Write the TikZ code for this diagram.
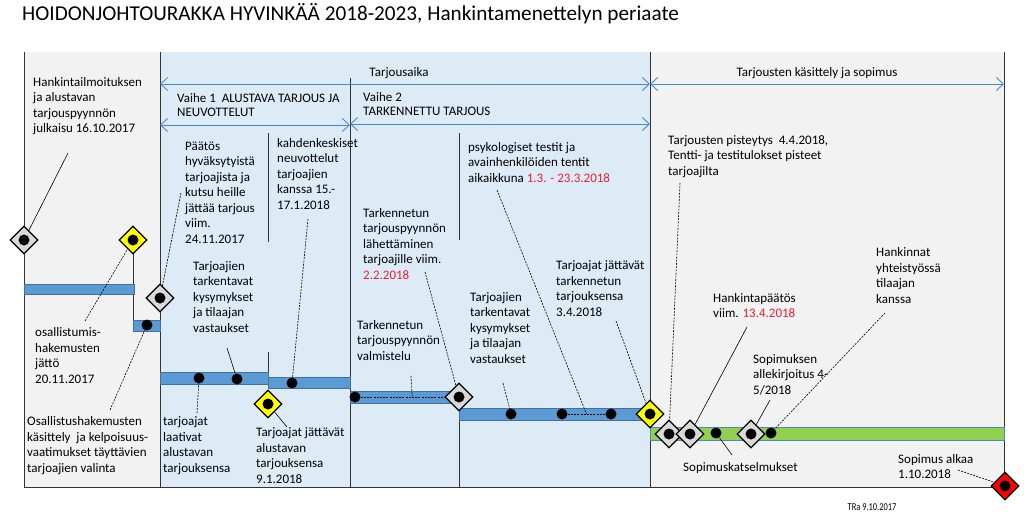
\documentclass[tikz,border=0pt]{standalone}
\usepackage{fontspec}
\setmainfont{Carlito}
\usetikzlibrary{shapes.geometric,arrows.meta,calc}

\definecolor{panelgray}{HTML}{F2F2F2}
\definecolor{panelblue}{HTML}{DDEBF7}
\definecolor{barblue}{HTML}{5B9BD5}
\definecolor{bardark}{HTML}{41719C}
\definecolor{bargreen}{HTML}{92D050}
\definecolor{arrowblue}{HTML}{4A89C8}
\definecolor{msgray}{HTML}{D9D9D9}
\definecolor{msyellow}{HTML}{FFFF00}
\definecolor{msred}{HTML}{FF0000}
\definecolor{datered}{HTML}{E8202F}

% base anchor of a multi-line node = baseline of its last line
\tikzset{
  txt/.style={anchor=base west, inner sep=0pt, align=left,
    font=\fontsize{13}{15.5}\selectfont},
  milestone/.style={diamond, draw=black, line width=1.3pt, fill=#1,
    minimum size=28pt, inner sep=0pt,
    path picture={\fill[black] (path picture bounding box.center) circle (5.5pt);}},
  evdot/.style={circle, fill=black, minimum size=11pt, inner sep=0pt},
  bar/.style={fill=barblue, draw=bardark, line width=0.8pt},
  periodarrow/.style={draw=arrowblue, line width=0.9pt,
    {Straight Barb[length=7pt,width=13pt]}-{Straight Barb[length=7pt,width=13pt]}},
  leader/.style={draw=black, line width=0.6pt},
  dleader/.style={leader, dash pattern=on 2pt off 1.2pt},
  divider/.style={draw=black!80, line width=0.9pt}
}
\newcommand{\reddate}[1]{\textcolor{datered}{#1}}

\begin{document}
\begin{tikzpicture}[x=1pt, y=-1pt]
  \useasboundingbox (0,0) rectangle (1024,519);

  % Title
  \node[anchor=base west, inner sep=0pt, font=\fontsize{21.2}{25}\selectfont] (title) at (22,21)
    {HOIDONJOHTOURAKKA HYVINKÄÄ 2018-2023, Hankintamenettelyn periaate};

  % Panels
  \fill[panelgray] (24,52) rectangle (160,487);
  \fill[panelblue] (160,52) rectangle (650,487);
  \fill[panelgray] (650,52) rectangle (1004,487);

  % Frame and dividers
  \draw[divider] (24,52) -- (24,487) -- (1004,487) -- (1004,52);
  \draw[divider] (160,52) -- (160,487);
  \draw[divider] (650,52) -- (650,487);
  \draw[divider] (350,78) -- (350,487);
  \draw[divider] (268,133) -- (268,242);
  \draw[divider] (268,352) -- (268,378);
  \draw[divider] (459,133) -- (459,240);
  \draw[divider] (459,397) -- (459,487);
  \draw[divider] (133,248) -- (133,320);

  % Period arrows
  \draw[periodarrow] (160,84) -- (650,84);
  \draw[periodarrow] (650,84) -- (1004,84);
  \draw[periodarrow] (160,125) -- (350,125);
  \draw[periodarrow] (350,124) -- (650,124);

  % Bars
  \path[bar] (24,284) rectangle (134,294);
  \path[bar] (133,320) rectangle (160,331);
  \path[bar] (160,372) rectangle (268,384);
  \path[bar] (268,377) rectangle (350,388);
  \path[bar] (350,391) rectangle (459,403);
  \path[bar] (459,408) rectangle (650,420);
  \filldraw[fill=bargreen, draw=arrowblue, line width=0.8pt] (650,427) rectangle (1004,440);

  % Milestones
  \node[milestone=msgray] (ms-publish) at (24,240) {};
  \node[milestone=msyellow] (ms-apply) at (133,240) {};
  \node[milestone=msgray] (ms-select) at (160,298) {};
  \node[milestone=msyellow] (ms-prelim) at (268,404) {};
  \node[milestone=msgray] (ms-refined) at (459,397) {};
  \node[milestone=msyellow] (ms-final) at (650,414) {};
  \node[milestone=msgray] (ms-score) at (669,434) {};
  \node[milestone=msgray] (ms-decision) at (690,434) {};
  \node[milestone=msgray] (ms-sign) at (751,434) {};
  \node[milestone=msred] (ms-start) at (1005,486) {};

  % Events
  \node[evdot] (d-sel) at (147,325) {};
  \node[evdot] (d-draft) at (199,378) {};
  \node[evdot] (d-qa1) at (237,379) {};
  \node[evdot] (d-talks) at (292,383) {};
  \node[evdot] (d-prep) at (355,397) {};
  \node[evdot] (d-qa2) at (511,414) {};
  \node[evdot] (d-test1) at (562,414) {};
  \node[evdot] (d-test2) at (611,414) {};
  \node[evdot] (d-review) at (716,433) {};
  \node[evdot] (d-coop) at (771,433) {};

  % Dashed spans inside bars
  \draw[dleader] (d-prep) -- (ms-refined);
  \draw[dleader] (d-test1) -- (d-test2);
  \coordinate (c-prep) at ($(d-prep)!0.55!(ms-refined)$);
  \coordinate (c-tests) at ($(d-test1)!0.5!(d-test2)$);

  % Texts
  \node[txt] (t-publish) at (33,132.5) {Hankintailmoituksen\\ja alustavan\\tarjouspyynnön\\julkaisu 16.10.2017};
  \node[txt, font=\fontsize{13}{14.5}\selectfont] (t-phase1) at (177,116.5) {Vaihe 1\ \ ALUSTAVA TARJOUS JA\\NEUVOTTELUT};
  \node[txt, font=\fontsize{13}{14.5}\selectfont] (t-phase2) at (363,115.5) {Vaihe 2\\TARKENNETTU TARJOUS};
  \node[txt, anchor=base] (t-period) at (399,76) {Tarjousaika};
  \node[txt, anchor=base] (t-handling) at (817,76) {Tarjousten käsittely ja sopimus};
  \node[txt] (t-select) at (185,243) {Päätös\\hyväksytyistä\\tarjoajista ja\\kutsu heille\\jättää tarjous\\viim.\\24.11.2017};
  \node[txt] (t-talks) at (277,209) {kahdenkeskiset\\neuvottelut\\tarjoajien\\kanssa 15.-\\17.1.2018};
  \node[txt] (t-qa1) at (193,332) {Tarjoajien\\tarkentavat\\kysymykset\\ja tilaajan\\vastaukset};
  \node[txt] (t-apply) at (35,383) {osallistumis-\\hakemusten\\jättö\\20.11.2017};
  \node[txt] (t-choose) at (27,472) {Osallistushakemusten\\käsittely\ \ ja kelpoisuus-\\vaatimukset täyttävien\\tarjoajien valinta};
  \node[txt] (t-draft) at (163,472) {tarjoajat\\laativat\\alustavan\\tarjouksensa};
  \node[txt] (t-prelim) at (256,483) {Tarjoajat jättävät\\alustavan\\tarjouksensa\\9.1.2018};
  \node[txt] (t-tests) at (468,182) {psykologiset testit ja\\avainhenkilöiden tentit\\aikaikkuna \reddate{1.3. - 23.3.2018}};
  \node[txt] (t-send) at (363,279) {Tarkennetun\\tarjouspyynnön\\lähettäminen\\tarjoajille viim.\\\reddate{2.2.2018}};
  \node[txt] (t-prep) at (357,360) {Tarkennetun\\tarjouspyynnön\\valmistelu};
  \node[txt] (t-qa2) at (470,363) {Tarjoajien\\tarkentavat\\kysymykset\\ja tilaajan\\vastaukset};
  \node[txt] (t-final) at (556,316) {Tarjoajat jättävät\\tarkennetun\\tarjouksensa\\3.4.2018};
  \node[txt] (t-score) at (668,175) {Tarjousten pisteytys\ \ 4.4.2018,\\Tentti- ja testitulokset pisteet\\tarjoajilta};
  \node[txt, font=\fontsize{13}{14.5}\selectfont] (t-decision) at (713,317) {Hankintapäätös\\viim. \reddate{13.4.2018}};
  \node[txt] (t-coop) at (876,303) {Hankinnat\\yhteistyössä\\tilaajan\\kanssa};
  \node[txt] (t-sign) at (753,394) {Sopimuksen\\allekirjoitus 4-\\5/2018};
  \node[txt] (t-review) at (683,471) {Sopimuskatselmukset};
  \node[txt, font=\fontsize{13}{14.5}\selectfont] (t-start) at (898,478) {Sopimus alkaa\\1.10.2018};
  \node[anchor=base, inner sep=0pt, font=\fontsize{10.5}{11}\selectfont\addfontfeature{FakeStretch=0.8}] (t-sign-off) at (872,510) {TRa 9.10.2017};

  % Leader ends at the texts
  \coordinate (c-publish) at (68,153);
  \coordinate (c-apply) at (85,321);
  \coordinate (c-choose) at (110,410);
  \coordinate (c-select) at (181,193);
  \coordinate (c-talks) at (308,219);
  \coordinate (c-qa1) at (227,348);
  \coordinate (c-draft) at (197,413);
  \coordinate (c-prelim) at (287,427);
  \coordinate (c-prepnote) at (411,376);
  \coordinate (c-send) at (425,272);
  \coordinate (c-testnote) at (497,190);
  \coordinate (c-qa2) at (503,383);
  \coordinate (c-final) at (616,321);
  \coordinate (c-score) at (680,183);
  \coordinate (c-decision) at (747,327);
  \coordinate (c-sign) at (770,400);
  \coordinate (c-coop) at (885,313);
  \coordinate (c-review) at (732,455);
  \coordinate (c-start) at (958,470);

  % Leaders
  \draw[leader] (c-publish) -- (ms-publish);
  \draw[dleader] (c-apply) -- (ms-apply);
  \draw[dleader] (c-choose) -- (d-sel);
  \draw[dleader] (c-select) -- (ms-select);
  \draw[dleader] (c-talks) -- (d-talks);
  \draw[leader] (c-qa1) -- (d-qa1);
  \draw[dleader] (c-draft) -- (d-draft);
  \draw[leader] (ms-prelim) -- (c-prelim);
  \draw[dleader] (c-prepnote) -- (c-prep);
  \draw[dleader] (c-send) -- (ms-refined);
  \draw[dleader] (c-testnote) -- (c-tests);
  \draw[dleader] (c-qa2) -- (d-qa2);
  \draw[dleader] (c-final) -- (ms-final);
  \draw[dleader] (c-score) -- (ms-score);
  \draw[leader] (c-decision) -- (ms-decision);
  \draw[leader] (c-sign) -- (ms-sign);
  \draw[dleader] (c-coop) -- (d-coop);
  \draw[leader] (d-review) -- (c-review);
  \draw[dleader] (c-start) -- (ms-start);
\end{tikzpicture}
\end{document}
